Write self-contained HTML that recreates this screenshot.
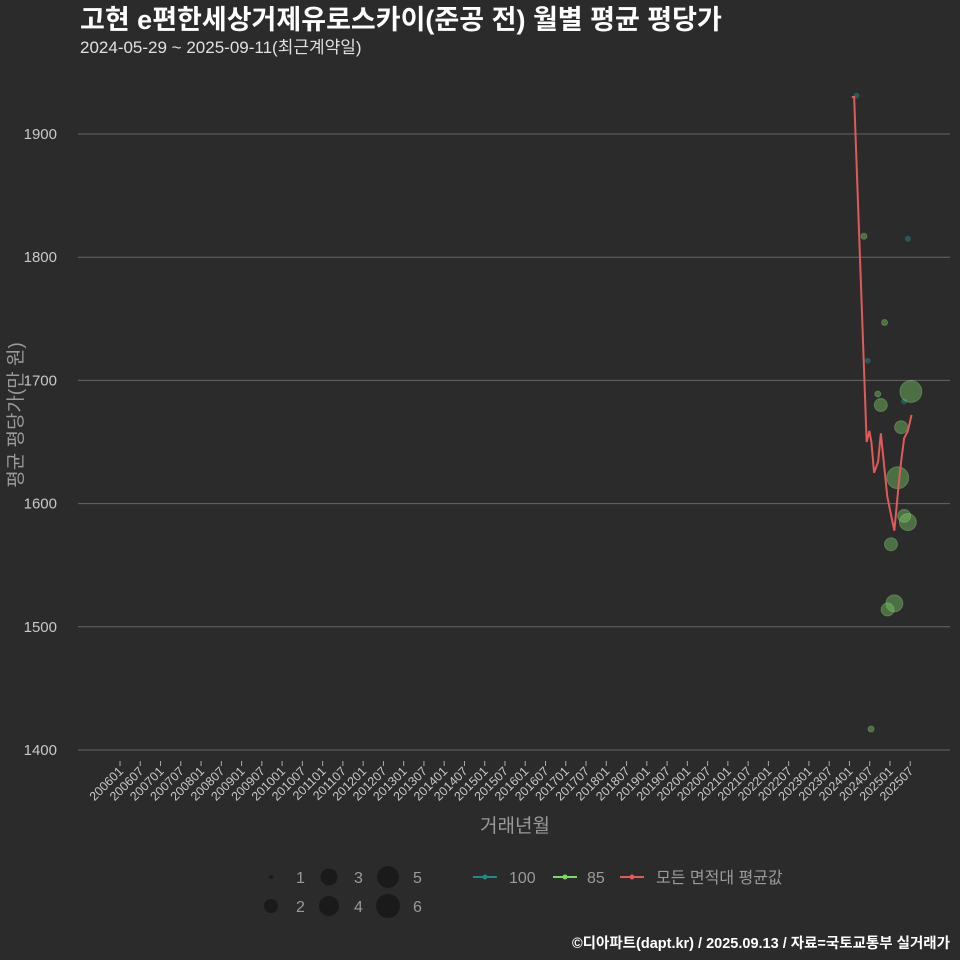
<!DOCTYPE html>
<html><head><meta charset="utf-8">
<style>
body{margin:0;background:#2b2b2b;}
svg{display:block;font-family:"Liberation Sans","Noto Sans CJK KR",sans-serif;}
</style></head>
<body>
<svg id="chart" width="960" height="960" viewBox="0 0 960 960">
<rect width="960" height="960" fill="#2b2b2b"/>
<text x="80" y="29" fill="#ffffff" font-size="27" font-weight="bold">고현 e편한세상거제유로스카이(준공 전) 월별 평균 평당가</text>
<text x="80" y="53" fill="#e0e0e0" font-size="17">2024-05-29 ~ 2025-09-11(최근계약일)</text>
<g id="grid"></g>
<g id="xaxis"></g>
<g id="marks"></g>
<text x="515" y="832" fill="#9a9a9a" font-size="19" text-anchor="middle">거래년월</text>
<text transform="translate(22,415) rotate(-90)" fill="#9a9a9a" font-size="19" text-anchor="middle">평균 평당가(만 원)</text>
<g id="legend" font-size="16" fill="#9a9a9a">
  <circle cx="271" cy="877" r="2" fill="#1a1a1a"/>
  <text x="296" y="883" fill="#9a9a9a">1</text>
  <circle cx="271" cy="906" r="7" fill="#1a1a1a"/>
  <text x="296" y="912" fill="#9a9a9a">2</text>
  <circle cx="329" cy="877" r="8.5" fill="#1a1a1a"/>
  <text x="354" y="883" fill="#9a9a9a">3</text>
  <circle cx="329" cy="906" r="10" fill="#1a1a1a"/>
  <text x="354" y="912" fill="#9a9a9a">4</text>
  <circle cx="388" cy="877" r="11" fill="#1a1a1a"/>
  <text x="413" y="883" fill="#9a9a9a">5</text>
  <circle cx="388" cy="906" r="12" fill="#1a1a1a"/>
  <text x="413" y="912" fill="#9a9a9a">6</text>
  <line x1="473" y1="877" x2="497" y2="877" stroke="#1f8a86" stroke-width="2"/>
  <circle cx="485" cy="877" r="2.5" fill="#1f8a86"/>
  <text x="509" y="883" fill="#9a9a9a">100</text>
  <line x1="553" y1="877" x2="577" y2="877" stroke="#7fd66a" stroke-width="2"/>
  <circle cx="565" cy="877" r="2.5" fill="#7fd66a"/>
  <text x="587" y="883" fill="#9a9a9a">85</text>
  <line x1="620" y1="877" x2="644" y2="877" stroke="#e05a5a" stroke-width="2"/>
  <circle cx="632" cy="877" r="2.5" fill="#e05a5a"/>
  <text x="656" y="883" fill="#9a9a9a">모든 면적대 평균값</text>
</g>
<text x="950" y="948" fill="#ffffff" font-size="14.5" font-weight="bold" text-anchor="end">©디아파트(dapt.kr) / 2025.09.13 / 자료=국토교통부 실거래가</text>
</svg>
<script>
// month index from 2006-01
const yTicks = [1400, 1500, 1600, 1700, 1800, 1900];
const xTickLabels = ["200601","200607","200701","200707","200801","200807","200901","200907","201001","201007","201101","201107","201201","201207","201301","201307","201401","201407","201501","201507","201601","201607","201701","201707","201801","201807","201901","201907","202001","202007","202101","202107","202201","202207","202301","202307","202401","202407","202501","202507"];
const avgMonths = [216.7,217.4,221.1,221.9,222.5,223.3,224.5,225.3,227.2,228,229.3,230.5,231.3,232.2,233.3,234.4];
const avgValues = [1930,1930,1650,1659,1650,1625,1634,1657,1606,1595,1578,1613,1634,1653,1659,1672];
const teal100Months = [218.1,233.3,221.4,232.2];
const teal100Values = [1931,1815,1716,1683];
const teal100Counts = [1,1,1,1];
const g85Months = [220.3,226.4,224.4,225.3,234.2,231.3,230.3,232.2,233.3,228.3,229.3,227.3,222.4];
const g85Values = [1817,1747,1689,1680,1691,1662,1621,1590,1585,1567,1519,1514,1417];
const g85Counts = [1,1,1,2,5,2,5,2,3,2,3,2,1];

const NS = "http://www.w3.org/2000/svg";
const x = m => 120 + m * 3.377;
const y = v => 750 - (v - 1400) * 1.232;
const rad = c => [0,3,6.5,8.5,10,11,12][c];
function mk(tag, attrs, parent){const e=document.createElementNS(NS,tag);for(const k in attrs)e.setAttribute(k,attrs[k]);parent.appendChild(e);return e;}
const grid=document.getElementById('grid'), xa=document.getElementById('xaxis'), marks=document.getElementById('marks');
yTicks.forEach(t=>{
  const l=mk('line',{x1:78,x2:950,y1:y(t),y2:y(t),stroke:'#666','stroke-width':1},grid);
  
  
  const tx=mk('text',{x:57,y:y(t)+5,fill:'#c8c8c8','font-size':15,'text-anchor':'end'},grid);
  tx.textContent=t;
  
  
});
xTickLabels.forEach((lab,i)=>{
  const px=x(i*6);
  const tk=mk('line',{x1:px,x2:px,y1:761,y2:766,stroke:'#aaa','stroke-width':1},xa);
  
  
  const tx=mk('text',{transform:`translate(${px+4},772) rotate(-45)`,fill:'#c8c8c8','font-size':12.5,'text-anchor':'end'},xa);
  tx.textContent=lab;
  
  
});
teal100Months.forEach((m,i)=>{
  const c=mk('circle',{cx:x(m),cy:y(teal100Values[i]),r:rad(teal100Counts[i]),fill:'#1f8a86','fill-opacity':0.5},marks);
  
  
});
g85Months.forEach((m,i)=>{
  const c=mk('circle',{cx:x(m),cy:y(g85Values[i]),r:rad(g85Counts[i]),fill:'#7fd66a','fill-opacity':0.4,stroke:'#9be58a','stroke-opacity':0.3},marks);
  
  
});
const pl=mk('polyline',{points:avgMonths.map((m,i)=>x(m)+','+y(avgValues[i])).join(' '),fill:'none',stroke:'#e05a5a','stroke-width':2},marks);


</script>
</body></html>
